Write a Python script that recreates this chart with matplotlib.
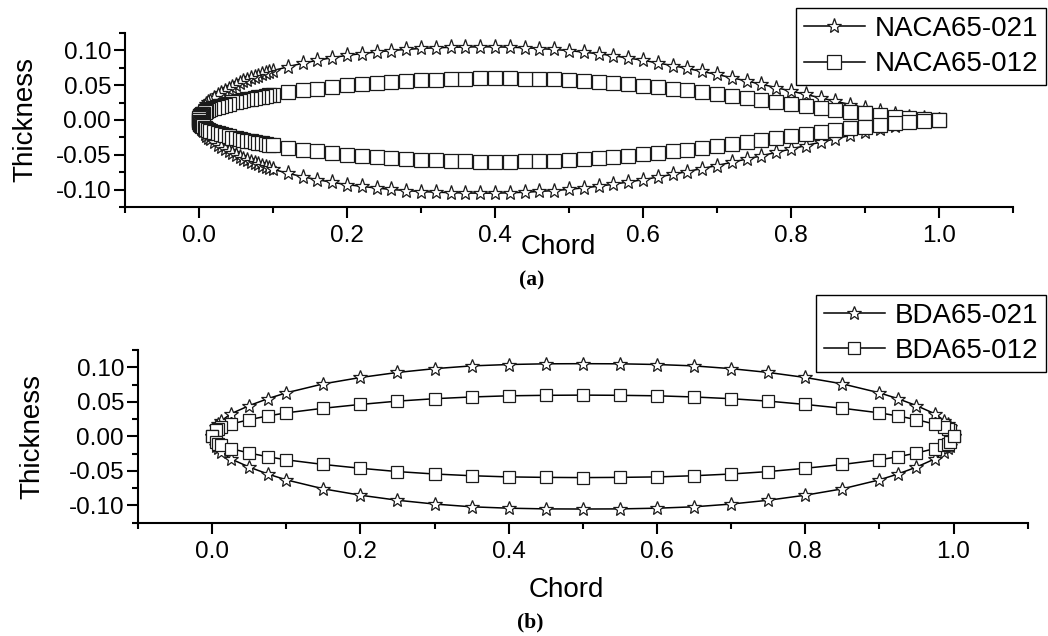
import matplotlib
matplotlib.use('Agg')
import matplotlib.pyplot as plt
from matplotlib.ticker import MultipleLocator, FormatStrFormatter

plt.rcParams['font.family'] = ['Liberation Sans', 'DejaVu Sans']
plt.rcParams['axes.unicode_minus'] = False

# ---------------- data: panel (a) ----------------
naca_x = [0, 0.0005, 0.001, 0.0015, 0.002, 0.003, 0.004, 0.005, 0.0075, 0.01,
          0.0125, 0.015, 0.02, 0.025, 0.03, 0.035, 0.04, 0.045, 0.05, 0.055,
          0.06, 0.065, 0.07, 0.075, 0.08, 0.085, 0.09, 0.095, 0.1,
          0.12, 0.14, 0.16, 0.18, 0.20, 0.22, 0.24, 0.26, 0.28, 0.30,
          0.32, 0.34, 0.36, 0.38, 0.40, 0.42, 0.44, 0.46, 0.48, 0.50,
          0.52, 0.54, 0.56, 0.58, 0.60, 0.62, 0.64, 0.66, 0.68, 0.70,
          0.72, 0.74, 0.76, 0.78, 0.80, 0.82, 0.84, 0.86, 0.88, 0.90,
          0.92, 0.94, 0.96, 0.98, 1.00]

naca021_upper = [0, 0.0050, 0.0071, 0.0087, 0.0100, 0.0123, 0.0142, 0.0158, 0.0194, 0.0226,
                 0.0253, 0.0277, 0.0318, 0.0358, 0.0391, 0.0422, 0.0451, 0.0479, 0.0507, 0.0531,
                 0.0554, 0.0577, 0.0598, 0.0618, 0.0637, 0.0655, 0.0673, 0.0691, 0.0708,
                 0.0765, 0.0815, 0.0858, 0.0895, 0.0929, 0.0954, 0.0978, 0.0998, 0.1014, 0.1028,
                 0.1037, 0.1044, 0.1049, 0.1051, 0.1051, 0.1046, 0.1038, 0.1027, 0.1013, 0.0997,
                 0.0975, 0.0951, 0.0923, 0.0891, 0.0858, 0.0820, 0.0781, 0.0740, 0.0697, 0.0654,
                 0.0608, 0.0561, 0.0514, 0.0465, 0.0417, 0.0367, 0.0318, 0.0269, 0.0221, 0.0173,
                 0.0129, 0.0085, 0.0050, 0.0025, 0]
naca021_lower = [0, -0.0050, -0.0071, -0.0087, -0.0100, -0.0123, -0.0142, -0.0158, -0.0194, -0.0226,
                 -0.0253, -0.0277, -0.0318, -0.0358, -0.0391, -0.0422, -0.0451, -0.0479, -0.0507, -0.0531,
                 -0.0554, -0.0577, -0.0598, -0.0618, -0.0637, -0.0655, -0.0673, -0.0691, -0.0708,
                 -0.0765, -0.0815, -0.0858, -0.0895, -0.0929, -0.0954, -0.0978, -0.0998, -0.1014, -0.1028,
                 -0.1037, -0.1044, -0.1049, -0.1051, -0.1051, -0.1046, -0.1038, -0.1027, -0.1013, -0.0997,
                 -0.0975, -0.0951, -0.0923, -0.0891, -0.0858, -0.0820, -0.0781, -0.0740, -0.0697, -0.0654,
                 -0.0608, -0.0561, -0.0514, -0.0465, -0.0417, -0.0367, -0.0318, -0.0269, -0.0221, -0.0173,
                 -0.0129, -0.0085, -0.0050, -0.0025, 0]

naca012_upper = [0, 0.0029, 0.0041, 0.0051, 0.0058, 0.0071, 0.0083, 0.0092, 0.0111, 0.0124,
                 0.0139, 0.0151, 0.0168, 0.0188, 0.0206, 0.0222, 0.0237, 0.0252, 0.0261, 0.0274,
                 0.0286, 0.0297, 0.0307, 0.0317, 0.0327, 0.0336, 0.0346, 0.0355, 0.0365,
                 0.0399, 0.0428, 0.0452, 0.0476, 0.0498, 0.0516, 0.0533, 0.0548, 0.0560, 0.0572,
                 0.0580, 0.0588, 0.0593, 0.0597, 0.0600, 0.0599, 0.0596, 0.0591, 0.0584, 0.0576,
                 0.0563, 0.0549, 0.0532, 0.0513, 0.0494, 0.0472, 0.0449, 0.0425, 0.0400, 0.0374,
                 0.0347, 0.0320, 0.0292, 0.0263, 0.0235, 0.0206, 0.0177, 0.0149, 0.0122, 0.0095,
                 0.0071, 0.0048, 0.0028, 0.0014, 0]
naca012_lower = [0, -0.0029, -0.0041, -0.0051, -0.0058, -0.0071, -0.0083, -0.0092, -0.0111, -0.0124,
                 -0.0139, -0.0151, -0.0168, -0.0188, -0.0206, -0.0222, -0.0237, -0.0252, -0.0261, -0.0274,
                 -0.0286, -0.0297, -0.0307, -0.0317, -0.0327, -0.0336, -0.0346, -0.0355, -0.0365,
                 -0.0399, -0.0428, -0.0452, -0.0476, -0.0498, -0.0516, -0.0533, -0.0548, -0.0560, -0.0572,
                 -0.0580, -0.0588, -0.0593, -0.0597, -0.0600, -0.0599, -0.0596, -0.0591, -0.0584, -0.0576,
                 -0.0563, -0.0549, -0.0532, -0.0513, -0.0494, -0.0472, -0.0449, -0.0425, -0.0400, -0.0374,
                 -0.0347, -0.0320, -0.0292, -0.0263, -0.0235, -0.0206, -0.0177, -0.0149, -0.0122, -0.0095,
                 -0.0071, -0.0048, -0.0028, -0.0014, 0]

# ---------------- data: panel (b) ----------------
bda_x = [0, 0.005, 0.0075, 0.0125, 0.025, 0.05, 0.075, 0.1, 0.15, 0.2,
         0.25, 0.3, 0.35, 0.4, 0.45, 0.5, 0.55, 0.6, 0.65, 0.7,
         0.75, 0.8, 0.85, 0.9, 0.925, 0.95, 0.975, 0.9875, 0.9925, 0.995, 1.0]

bda021_upper = [0, 0.0142, 0.0173, 0.0226, 0.0325, 0.0445, 0.0545, 0.0630, 0.0760, 0.0852,
                0.0925, 0.0980, 0.1020, 0.1040, 0.1050, 0.1052, 0.1050, 0.1040, 0.1020, 0.0980,
                0.0925, 0.0852, 0.0760, 0.0630, 0.0545, 0.0445, 0.0325, 0.0226, 0.0173, 0.0142, 0]
bda021_lower = [0, -0.0142, -0.0173, -0.0226, -0.0325, -0.0445, -0.0545, -0.0630, -0.0760, -0.0852,
                -0.0925, -0.0980, -0.1020, -0.1040, -0.1050, -0.1052, -0.1050, -0.1040, -0.1020, -0.0980,
                -0.0925, -0.0852, -0.0760, -0.0630, -0.0545, -0.0445, -0.0325, -0.0226, -0.0173, -0.0142, 0]

bda012_upper = [0, 0.0085, 0.0105, 0.0130, 0.0176, 0.0242, 0.0295, 0.0340, 0.0407, 0.0462,
                0.0510, 0.0545, 0.0570, 0.0587, 0.0594, 0.0597, 0.0594, 0.0587, 0.0570, 0.0545,
                0.0510, 0.0462, 0.0407, 0.0340, 0.0295, 0.0242, 0.0176, 0.0130, 0.0105, 0.0085, 0]
bda012_lower = [0, -0.0085, -0.0105, -0.0130, -0.0176, -0.0242, -0.0295, -0.0340, -0.0407, -0.0462,
                -0.0510, -0.0545, -0.0570, -0.0587, -0.0594, -0.0597, -0.0594, -0.0587, -0.0570, -0.0545,
                -0.0510, -0.0462, -0.0407, -0.0340, -0.0295, -0.0242, -0.0176, -0.0130, -0.0105, -0.0085, 0]

labels_a = ['NACA65-021', 'NACA65-012']
labels_b = ['BDA65-021', 'BDA65-012']
x_label = 'Chord'
y_label = 'Thickness'

# ---------------- figure ----------------
fig = plt.figure(figsize=(10.48, 6.36), dpi=100)
ax1 = fig.add_axes([125 / 1048, 1 - 207 / 636, 888 / 1048, 174 / 636])
ax2 = fig.add_axes([138 / 1048, 1 - 522.7 / 636, 889.7 / 1048, 172.7 / 636])

line_kw = dict(color='black', linewidth=1.1, markerfacecolor='white',
               markeredgecolor='#1a1a1a', markeredgewidth=0.9)


def contour(xs, up, lo):
    return xs[::-1] + xs, up[::-1] + lo


xa, ya = contour(naca_x, naca021_upper, naca021_lower)
ax1.plot(xa, ya, marker='*', markersize=11, label=labels_a[0], **line_kw)
xa, ya = contour(naca_x, naca012_upper, naca012_lower)
ax1.plot(xa, ya, marker='s', markersize=9.5, label=labels_a[1], **line_kw)

xb, yb = contour(bda_x, bda021_upper, bda021_lower)
ax2.plot(xb, yb, marker='*', markersize=10.5, label=labels_b[0], **line_kw)
xb, yb = contour(bda_x, bda012_upper, bda012_lower)
ax2.plot(xb, yb, marker='s', markersize=8.5, label=labels_b[1], **line_kw)

for ax in (ax1, ax2):
    ax.set_xlim(-0.1, 1.1)
    ax.set_ylim(-0.125, 0.125)
    ax.spines['top'].set_visible(False)
    ax.spines['right'].set_visible(False)
    ax.spines['left'].set_linewidth(1.5)
    ax.spines['bottom'].set_linewidth(1.5)
    ax.xaxis.set_major_locator(MultipleLocator(0.2))
    ax.xaxis.set_minor_locator(MultipleLocator(0.1))
    ax.yaxis.set_major_locator(MultipleLocator(0.05))
    ax.yaxis.set_minor_locator(MultipleLocator(0.025))
    ax.xaxis.set_major_formatter(FormatStrFormatter('%.1f'))
    ax.yaxis.set_major_formatter(FormatStrFormatter('%.2f'))
    ax.tick_params(axis='both', which='major', direction='out', length=8, width=1.5,
                   labelsize=17.5, colors='black')
    ax.tick_params(axis='both', which='minor', direction='out', length=4, width=1.5)
    ax.tick_params(axis='x', which='major', pad=5)
    ax.tick_params(axis='y', which='major', pad=2)
    ax.set_xlabel(x_label, fontsize=20)
    ax.set_ylabel(y_label, fontsize=20)

ax1.xaxis.set_label_coords(0.4876, -0.155)
ax1.yaxis.set_label_coords(-0.098, 0.5)
ax2.xaxis.set_label_coords(0.4816, -0.314)
ax2.yaxis.set_label_coords(-0.1045, 0.5)

leg_kw = dict(loc='upper right', fontsize=20, frameon=True, fancybox=False,
              edgecolor='black', framealpha=1, numpoints=1, handlelength=2.2,
              handletextpad=0.35, labelspacing=0.34, borderpad=0.28,
              borderaxespad=0)
l1 = ax1.legend(bbox_to_anchor=(1046 / 1048, 1 - 8 / 636),
                bbox_transform=fig.transFigure, **leg_kw)
l2 = ax2.legend(bbox_to_anchor=(1046 / 1048, 1 - 295 / 636),
                bbox_transform=fig.transFigure, **leg_kw)
for lg in (l1, l2):
    lg.get_frame().set_linewidth(1.0)

fig.text(532 / 1048, 1 - 280 / 636, '(a)', ha='center', va='center',
         fontsize=15.5, family=['Liberation Serif', 'DejaVu Serif'], fontweight='bold')
fig.text(530 / 1048, 1 - 622 / 636, '(b)', ha='center', va='center',
         fontsize=15.5, family=['Liberation Serif', 'DejaVu Serif'], fontweight='bold')

fig.savefig('out.png', dpi=100)
